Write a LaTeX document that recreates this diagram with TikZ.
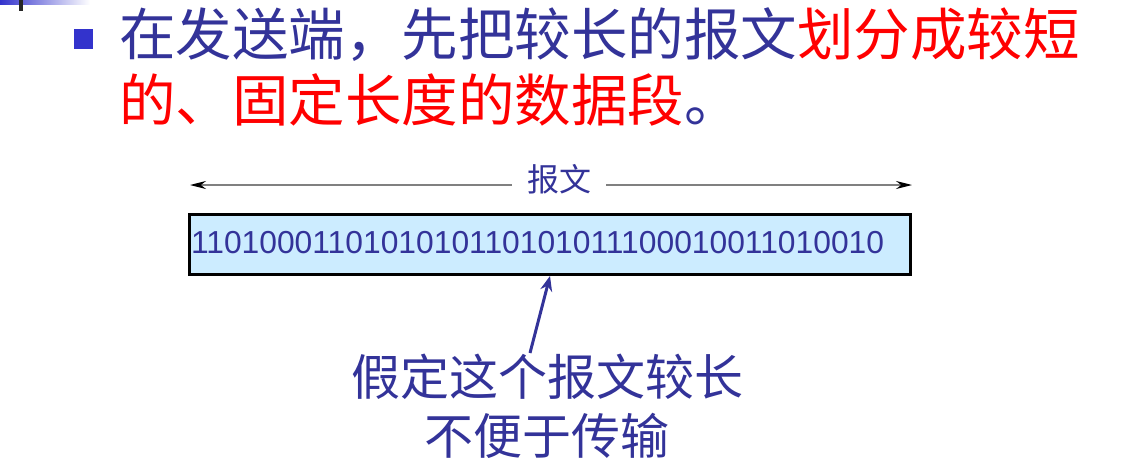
\documentclass[tikz,border=0pt]{standalone}
\usepackage{fontspec}
\setmainfont{Liberation Sans}
\newfontfamily\cjk{Noto Sans CJK SC}
\usetikzlibrary{arrows.meta}
\definecolor{slideblue}{HTML}{333399}
\definecolor{slidered}{HTML}{FF0000}
\definecolor{bulletblue}{HTML}{3333CC}
\definecolor{boxfill}{HTML}{CCECFF}
\definecolor{rulegray}{HTML}{808080}

\begin{document}
\begin{tikzpicture}[
  x=1pt,
  y=-1pt,
  every node/.style={inner sep=0pt, slideblue},
  title/.style={anchor=base west, font=\cjk\fontsize{56.5}{66}\selectfont},
  spanlabel/.style={font=\cjk\fontsize{32}{38}\selectfont, fill=white,
                    inner xsep=15pt, text height=24pt, text depth=12pt},
  span/.style={rulegray, line width=1.5pt,
               -{Stealth[black, length=16pt, width=8pt]}},
  msgbox/.style={draw=black, line width=3pt, fill=boxfill,
                 minimum height=60pt, text width=718pt, inner xsep=1.5pt,
                 align=left, text height=17pt, text depth=0pt,
                 font=\fontsize{31.8}{36}\selectfont},
  note/.style={anchor=base, font=\cjk\fontsize{49}{58}\selectfont},
  pointer/.style={slideblue, line width=3pt,
                  -{Stealth[length=15pt, width=12pt]}}
]
  % ---- page edges --------------------------------------------------------
  \useasboundingbox (0,0) rectangle (1127,471);

  % ---- corner of the slide frame ------------------------------------------
  \shade[left color=bulletblue, right color=white] (0,0) rectangle (90,4);
  \fill[black!85] (19,0) rectangle (23,10.5);

  % ---- bullet and heading -------------------------------------------------
  \fill[bulletblue] (74,29) rectangle (93,49);
  \node[title] (line1) at (119,55)
    {在发送端，先把较长的报文\textcolor{slidered}{划分成较短}};
  \node[title, slidered] (line2) at (119,121)
    {的、固定长度的数据段\textcolor{slideblue}{。}};

  % ---- the length of the message -----------------------------------------
  \node[spanlabel] (len) at (559,185) {报文};
  \coordinate (lend) at (190,185);
  \coordinate (rend) at (912,185);
  \draw[span] (len.west) -- (lend);
  \draw[span] (len.east) -- (rend);

  % ---- the message itself --------------------------------------------------
  \node[msgbox] (msg) at (550,244.5)
    {1101000110101010110101011100010011010010};

  % ---- remark under the message -------------------------------------------
  \node[note] (note1) at (547,395) {假定这个报文较长};
  \node[note] (note2) at (547,454) {不便于传输};
  \coordinate (tail) at (530,353);
  \draw[pointer] (tail) -- (msg.south);

\end{tikzpicture}
\end{document}
